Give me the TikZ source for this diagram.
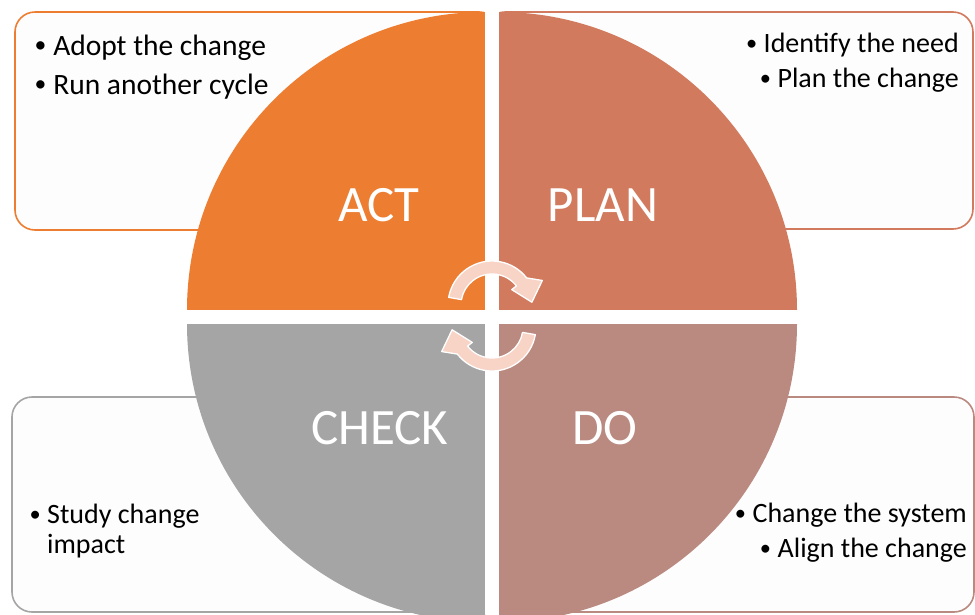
\documentclass[tikz,border=0pt]{standalone}
\usepackage{fontspec}
\usepackage{graphicx}
\setmainfont{Carlito}
\usetikzlibrary{positioning}
\definecolor{actc}{HTML}{ED7D31}
\definecolor{planc}{HTML}{D27A5D}
\definecolor{checkc}{HTML}{A5A5A5}
\definecolor{doc}{HTML}{BA8980}
\definecolor{boxbg}{HTML}{FDFDFD}
\definecolor{turnc}{HTML}{F8D4C6}
\newcommand{\bdot}{\makebox[0.68em][l]{\hspace{0.05em}\raisebox{0.07em}{\scalebox{0.8}{\textbullet}}}}

\begin{document}
\begin{tikzpicture}[x=1pt,y=-1pt,
    note box/.style={line width=1.6pt,rounded corners=20pt,fill=boxbg},
    quarter label/.style={text=white,font=\fontsize{51}{51}\selectfont},
    note/.style={inner sep=0pt,font=\fontsize{28}{34}\selectfont},
    big note/.style={inner sep=0pt,font=\fontsize{29.5}{36}\selectfont},
    turn arrow/.style={fill=turnc,draw=white,line width=1.3pt,line join=round}]
  \useasboundingbox (0,0) rectangle (975,614);
  % note boxes, behind the wheel
  \draw[note box,draw=actc] (15,12) rectangle (499,230);
  \draw[note box,draw=planc] (485,12) rectangle (973,229);
  \draw[note box,draw=checkc] (12,397) rectangle (499,612);
  \draw[note box,draw=doc] (485,397) rectangle (974,612);
  % the four quarters
  \fill[actc] (485,310) -- (187,310) arc[start angle=180,end angle=270,radius=298] -- cycle;
  \fill[planc] (499,310) -- (499,12) arc[start angle=270,end angle=360,radius=298] -- cycle;
  \fill[doc] (499,324) -- (797,324) arc[start angle=0,end angle=90,radius=298] -- cycle;
  \fill[checkc] (485,324) -- (485,622) arc[start angle=90,end angle=180,radius=298] -- cycle;
  \fill[white] (485,0) rectangle (499,614);
  \fill[white] (180,310) rectangle (805,324);

  \node[quarter label] (act) at (379,205) {ACT};
  \node[quarter label] (plan) at (603,205) {PLAN};
  \node[quarter label] (check) at (380,428) {CHECK};
  \node[quarter label] (do) at (605,428) {DO};

  % turning arrows
  \begin{scope}[shift={(492,305)}]
    \filldraw[turn arrow] (190:44) arc[start angle=190,end angle=322,radius=44]
      -- (334:56) -- (356:40) -- (322:25) -- (322:31)
      arc[start angle=322,end angle=190,radius=31] -- cycle;
  \end{scope}
  \begin{scope}[shift={(492,327)}]
    \filldraw[turn arrow] (10:44) arc[start angle=10,end angle=142,radius=44]
      -- (154:56) -- (176:40) -- (142:25) -- (142:31)
      arc[start angle=142,end angle=10,radius=31] -- cycle;
  \end{scope}

  % notes
  \node[big note,anchor=base west] (adopt) at (33,55) {\bdot Adopt the change};
  \node[big note,anchor=base west] (rerun) at ([yshift=-39pt]adopt.base west) {\bdot Run another cycle};
  \node[note,anchor=base east] (need) at (959,52) {\bdot Identify the need};
  \node[note,anchor=base east] (planit) at ([yshift=-35pt]need.base east) {\bdot Plan the change};
  \node[note,anchor=base west] (study) at (28,523) {\bdot Study change};
  \node[note,anchor=base west] (impact) at (47,553) {impact};
  \node[note,anchor=base east] (system) at (967,522) {\bdot Change the system};
  \node[note,anchor=base east] (align) at ([yshift=-35pt]system.base east) {\bdot Align the change};
\end{tikzpicture}
\end{document}
